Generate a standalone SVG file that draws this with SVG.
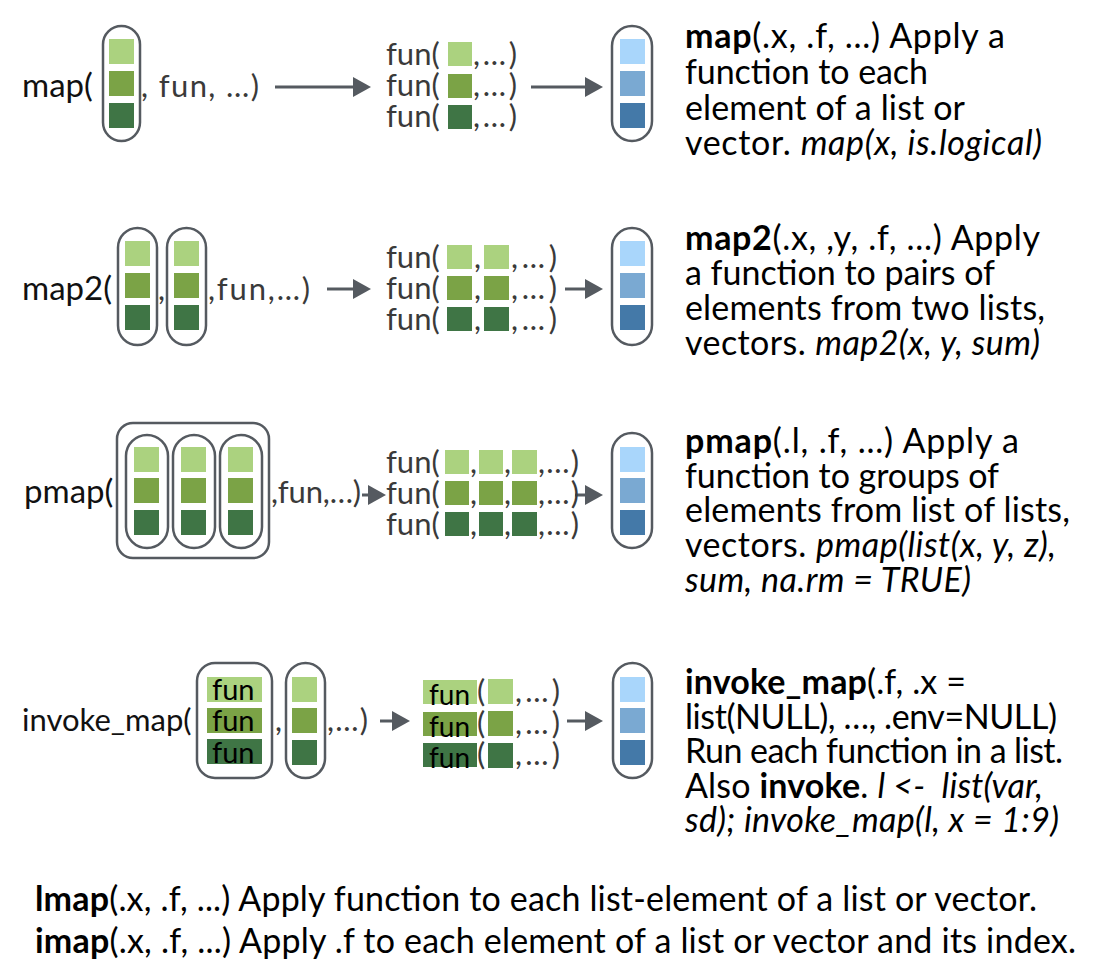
<svg xmlns="http://www.w3.org/2000/svg" width="1110" height="966" viewBox="0 0 1110 966">
<defs>
<style>
text{font-family:Lato,"Source Sans Pro","Noto Sans",sans-serif}
.lbl{font-size:33px;fill:#111}
.code{font-size:31px;fill:#3a3a3a}
.desc{font-size:34px;fill:#000}
.bold{font-weight:bold}
.it{font-style:italic}
.pill{fill:#fff;stroke:#555a60;stroke-width:2.5}
.g1{fill:#abd27f}.g2{fill:#7ba346}.g3{fill:#3f7545}
.b1{fill:#a9d6fb}.b2{fill:#7aa9d2}.b3{fill:#4479a8}
.arr{stroke:#555a60;stroke-width:3;fill:none;marker-end:url(#ah)}
.fn{font-size:29px;fill:#000}
</style>
<marker id="ah" markerUnits="userSpaceOnUse" viewBox="0 0 18 20" refX="6" refY="10" markerWidth="18" markerHeight="20" orient="auto">
<path d="M0,0 L18,10 L0,20 z" fill="#555a60"/>
</marker>
</defs>
<rect width="1110" height="966" fill="#fff"/>

<g id="connectors">
<line class="arr" x1="275" y1="87" x2="359" y2="87"/>
<line class="arr" x1="531" y1="87" x2="591" y2="87"/>
<line class="arr" x1="327" y1="289" x2="359" y2="289"/>
<line class="arr" x1="565" y1="289" x2="591" y2="289"/>
<line class="arr" x1="362" y1="495" x2="374" y2="495"/>
<line class="arr" x1="575" y1="495" x2="591" y2="495"/>
<line class="arr" x1="380" y1="721" x2="398" y2="721"/>
<line class="arr" x1="567" y1="721" x2="591" y2="721"/>
</g>

<g id="map-input">
<text class="lbl" x="22" y="97">map(</text>
<rect class="pill" x="103" y="26" width="37" height="115" rx="18.5"/>
<rect class="g1" x="109" y="39" width="25" height="25"/>
<rect class="g2" x="109" y="71" width="25" height="25"/>
<rect class="g3" x="109" y="103" width="25" height="25"/>
<text class="code" x="141" y="97" textLength="118">, fun, …)</text>
</g>
<g id="map-calls">
<text class="code" x="386" y="65">fun(</text>
<text class="code" x="386" y="96">fun(</text>
<text class="code" x="386" y="127">fun(</text>
<rect class="g1" x="448" y="42" width="24" height="24"/>
<rect class="g2" x="448" y="74" width="24" height="24"/>
<rect class="g3" x="448" y="105" width="24" height="24"/>
<text class="code" x="473" y="65" textLength="44">,…)</text>
<text class="code" x="473" y="96" textLength="44">,…)</text>
<text class="code" x="473" y="127" textLength="44">,…)</text>
</g>
<g id="map-output">
<rect class="pill" x="612" y="26" width="40" height="115" rx="20"/>
<rect class="b1" x="620" y="39" width="25" height="25"/>
<rect class="b2" x="620" y="71" width="25" height="25"/>
<rect class="b3" x="620" y="103" width="25" height="25"/>
</g>
<g id="map-desc">
<text class="desc" x="685" y="48" textLength="320"><tspan class="bold">map</tspan>(.x, .f, …) Apply a</text>
<text class="desc" x="685" y="84" textLength="243">function to each</text>
<text class="desc" x="685" y="120" textLength="280">element of a list or</text>
<text class="desc" x="685" y="155" textLength="357">vector. <tspan class="it">map(x, is.logical)</tspan></text>
</g>

<g id="map2-input">
<text class="lbl" x="22" y="300">map2(</text>
<rect class="pill" x="118" y="228" width="39" height="117" rx="19.5"/>
<rect class="pill" x="167" y="228" width="39" height="117" rx="19.5"/>
<rect class="g1" x="125" y="241" width="25" height="25"/>
<rect class="g2" x="125" y="273" width="25" height="25"/>
<rect class="g3" x="125" y="305" width="25" height="25"/>
<rect class="g1" x="174" y="241" width="25" height="25"/>
<rect class="g2" x="174" y="273" width="25" height="25"/>
<rect class="g3" x="174" y="305" width="25" height="25"/>
<text class="code" x="158" y="300">,</text>
<text class="code" x="208" y="300" textLength="102">,fun,…)</text>
</g>
<g id="map2-calls">
<text class="code" x="386" y="268">fun(</text>
<text class="code" x="386" y="299">fun(</text>
<text class="code" x="386" y="330">fun(</text>
<rect class="g1" x="447" y="245" width="25" height="24"/>
<rect class="g2" x="447" y="276" width="25" height="24"/>
<rect class="g3" x="447" y="307" width="25" height="24"/>
<rect class="g1" x="484" y="245" width="25" height="24"/>
<rect class="g2" x="484" y="276" width="25" height="24"/>
<rect class="g3" x="484" y="307" width="25" height="24"/>
<text class="code" x="474" y="268">,</text>
<text class="code" x="474" y="299">,</text>
<text class="code" x="474" y="330">,</text>
<text class="code" x="511" y="268" textLength="46">,…)</text>
<text class="code" x="511" y="299" textLength="46">,…)</text>
<text class="code" x="511" y="330" textLength="46">,…)</text>
</g>
<g id="map2-output">
<rect class="pill" x="612" y="228" width="40" height="117" rx="20"/>
<rect class="b1" x="620" y="241" width="25" height="25"/>
<rect class="b2" x="620" y="273" width="25" height="25"/>
<rect class="b3" x="620" y="305" width="25" height="25"/>
</g>
<g id="map2-desc">
<text class="desc" x="685" y="250" textLength="355"><tspan class="bold">map2</tspan>(.x, ,y, .f, …) Apply</text>
<text class="desc" x="685" y="285" textLength="310">a function to pairs of</text>
<text class="desc" x="685" y="320" textLength="360">elements from two lists,</text>
<text class="desc" x="685" y="355" textLength="355">vectors. <tspan class="it">map2(x, y, sum)</tspan></text>
</g>

<g id="pmap-input">
<text class="lbl" x="24" y="503">pmap(</text>
<rect class="pill" x="117" y="423" width="152" height="135" rx="16"/>
<rect class="pill" x="126" y="435" width="42" height="113" rx="21"/>
<rect class="pill" x="173" y="435" width="42" height="113" rx="21"/>
<rect class="pill" x="220" y="435" width="42" height="113" rx="21"/>
<rect class="g1" x="134" y="447" width="25" height="25"/>
<rect class="g2" x="134" y="478" width="25" height="25"/>
<rect class="g3" x="134" y="510" width="25" height="25"/>
<rect class="g1" x="181" y="447" width="25" height="25"/>
<rect class="g2" x="181" y="478" width="25" height="25"/>
<rect class="g3" x="181" y="510" width="25" height="25"/>
<rect class="g1" x="228" y="447" width="25" height="25"/>
<rect class="g2" x="228" y="478" width="25" height="25"/>
<rect class="g3" x="228" y="510" width="25" height="25"/>
<text class="code" x="271" y="503" textLength="90">,fun,…)</text>
</g>
<g id="pmap-calls">
<text class="code" x="386" y="473">fun(</text>
<text class="code" x="386" y="504">fun(</text>
<text class="code" x="386" y="535">fun(</text>
<rect class="g1" x="445" y="450" width="24" height="24"/>
<rect class="g2" x="445" y="481" width="24" height="24"/>
<rect class="g3" x="445" y="512" width="24" height="24"/>
<rect class="g1" x="479" y="450" width="24" height="24"/>
<rect class="g2" x="479" y="481" width="24" height="24"/>
<rect class="g3" x="479" y="512" width="24" height="24"/>
<rect class="g1" x="512" y="450" width="25" height="24"/>
<rect class="g2" x="512" y="481" width="25" height="24"/>
<rect class="g3" x="512" y="512" width="25" height="24"/>
<text class="code" x="470" y="473">,</text>
<text class="code" x="470" y="504">,</text>
<text class="code" x="470" y="535">,</text>
<text class="code" x="504" y="473">,</text>
<text class="code" x="504" y="504">,</text>
<text class="code" x="504" y="535">,</text>
<text class="code" x="538" y="473" textLength="41">,…)</text>
<text class="code" x="538" y="504" textLength="41">,…)</text>
<text class="code" x="538" y="535" textLength="41">,…)</text>
</g>
<g id="pmap-output">
<rect class="pill" x="612" y="433" width="40" height="115" rx="20"/>
<rect class="b1" x="620" y="447" width="25" height="25"/>
<rect class="b2" x="620" y="478" width="25" height="25"/>
<rect class="b3" x="620" y="510" width="25" height="25"/>
</g>
<g id="pmap-desc">
<text class="desc" x="685" y="453" textLength="334"><tspan class="bold">pmap</tspan>(.l, .f, …) Apply a</text>
<text class="desc" x="685" y="488" textLength="314">function to groups of</text>
<text class="desc" x="685" y="522" textLength="385">elements from list of lists,</text>
<text class="desc" x="685" y="557" textLength="371">vectors. <tspan class="it">pmap(list(x, y, z),</tspan></text>
<text class="desc it" x="685" y="592" textLength="286">sum, na.rm = TRUE)</text>
</g>

<g id="invoke-input">
<text class="lbl" x="22" y="731" style="font-size:31px">invoke_map(</text>
<rect class="pill" x="197" y="663" width="75" height="115" rx="18"/>
<rect class="g1" x="207" y="677" width="55" height="25"/>
<rect class="g2" x="207" y="708" width="55" height="25"/>
<rect class="g3" x="207" y="739" width="55" height="25"/>
<text class="fn" x="212" y="700">fun</text>
<text class="fn" x="212" y="731">fun</text>
<text class="fn" x="212" y="763">fun</text>
<text class="code" x="275" y="731">,</text>
<rect class="pill" x="286" y="663" width="39" height="115" rx="19.5"/>
<rect class="g1" x="292" y="677" width="25" height="25"/>
<rect class="g2" x="292" y="708" width="25" height="25"/>
<rect class="g3" x="292" y="740" width="25" height="25"/>
<text class="code" x="327" y="731" textLength="41">,…)</text>
</g>
<g id="invoke-calls">
<rect class="g1" x="423" y="680" width="54" height="24"/>
<rect class="g2" x="423" y="712" width="54" height="24"/>
<rect class="g3" x="423" y="743" width="54" height="24"/>
<text class="fn" x="429" y="705" style="font-size:28px">fun</text>
<text class="fn" x="429" y="737" style="font-size:28px">fun</text>
<text class="fn" x="429" y="768" style="font-size:28px">fun</text>
<text class="code" x="477" y="702">(</text>
<text class="code" x="477" y="734">(</text>
<text class="code" x="477" y="765">(</text>
<rect class="g1" x="488" y="679" width="25" height="25"/>
<rect class="g2" x="488" y="711" width="25" height="25"/>
<rect class="g3" x="488" y="743" width="25" height="25"/>
<text class="code" x="515" y="702" textLength="45">,…)</text>
<text class="code" x="515" y="734" textLength="45">,…)</text>
<text class="code" x="515" y="765" textLength="45">,…)</text>
</g>
<g id="invoke-output">
<rect class="pill" x="613" y="663" width="39" height="115" rx="19.5"/>
<rect class="b1" x="620" y="677" width="25" height="25"/>
<rect class="b2" x="620" y="708" width="25" height="25"/>
<rect class="b3" x="620" y="740" width="25" height="25"/>
</g>
<g id="invoke-desc">
<text class="desc" x="685" y="694" textLength="281"><tspan class="bold">invoke_map</tspan>(.f, .x =</text>
<text class="desc" x="685" y="729" textLength="372">list(NULL), …, .env=NULL)</text>
<text class="desc" x="685" y="763" textLength="378">Run each function in a list.</text>
<text class="desc" x="685" y="798" textLength="358" style="white-space:pre">Also <tspan class="bold">invoke</tspan>. <tspan class="it">l &lt;-  list(var,</tspan></text>
<text class="desc it" x="685" y="832" textLength="374">sd); invoke_map(l, x = 1:9)</text>
</g>

<g id="footer">
<text class="desc" x="35" y="911" textLength="1002"><tspan class="bold">lmap</tspan>(.x, .f, ...) Apply function to each list-element of a list or vector.</text>
<text class="desc" x="35" y="953" textLength="1041"><tspan class="bold">imap</tspan>(.x, .f, ...) Apply .f to each element of a list or vector and its index.</text>
</g>
</svg>
